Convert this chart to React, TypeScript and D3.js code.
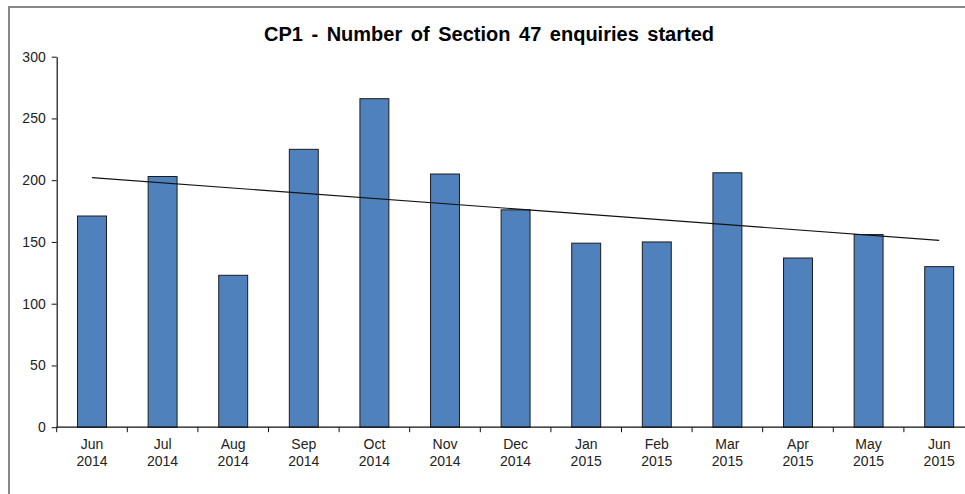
import React, { useEffect, useRef } from "react";
import * as d3 from "d3";

const months = ["Jun", "Jul", "Aug", "Sep", "Oct", "Nov", "Dec", "Jan", "Feb", "Mar", "Apr", "May", "Jun"];
const years = ["2014", "2014", "2014", "2014", "2014", "2014", "2014", "2015", "2015", "2015", "2015", "2015", "2015"];
const enquiries = [171, 203, 123, 225, 266, 205, 176, 149, 150, 206, 137, 156, 130];
const yTicks = [0, 50, 100, 150, 200, 250, 300];
const title = "CP1 - Number of Section 47 enquiries started";

export default function App() {
  const ref = useRef<SVGSVGElement>(null);

  useEffect(() => {
    document.body.style.margin = "0";
    const svg = d3.select(ref.current);
    svg.selectAll("*").remove();

    const W = 965, H = 494;
    const left = 56.7, right = 974.5, top = 56.7, bottom = 427.2;
    const font = "'Liberation Sans', Arial, sans-serif";

    svg.append("rect").attr("width", W).attr("height", H).attr("fill", "#fff");

    // outer chart border
    svg.append("rect")
      .attr("x", 9).attr("y", 7).attr("width", 980).attr("height", 520)
      .attr("fill", "none").attr("stroke", "#878787").attr("stroke-width", 2);

    const idx = months.map((_, i) => String(i));
    const x = d3.scaleBand<string>().domain(idx).range([left, right]).padding(0);
    const y = d3.scaleLinear().domain([0, 300]).range([bottom, top]);

    const bw = x.bandwidth() * 0.41;

    // bars
    svg.append("g").selectAll("rect").data(enquiries).join("rect")
      .attr("x", (_, i) => (x(String(i)) as number) + x.bandwidth() / 2 - bw / 2)
      .attr("y", d => y(d))
      .attr("width", bw)
      .attr("height", d => y(0) - y(d))
      .attr("fill", "#4F81BD")
      .attr("stroke", "#1c1c1c")
      .attr("stroke-width", 1);

    // linear trend line
    const n = enquiries.length;
    const xs = enquiries.map((_, i) => i + 1);
    const mx = d3.mean(xs) as number;
    const my = d3.mean(enquiries) as number;
    const sxy = d3.sum(enquiries.map((v, i) => (xs[i] - mx) * (v - my)));
    const sxx = d3.sum(xs.map(v => (v - mx) ** 2));
    const slope = sxy / sxx;
    const icpt = my - slope * mx;
    const trend = [0, n - 1].map(i => ({ i, v: icpt + slope * (i + 1) }));
    const line = d3.line<{ i: number; v: number }>()
      .x(d => (x(String(d.i)) as number) + x.bandwidth() / 2)
      .y(d => y(d.v));
    svg.append("path").attr("d", line(trend) as string)
      .attr("fill", "none").attr("stroke", "#111").attr("stroke-width", 1.1);

    // y axis
    const ya = svg.append("g").attr("transform", `translate(${left},0)`)
      .call(d3.axisLeft(y).tickValues(yTicks).tickSize(5).tickPadding(6).tickSizeOuter(0));
    ya.select(".domain").attr("stroke", "#111").attr("stroke-width", 1.2);
    ya.selectAll(".tick line").attr("stroke", "#111");
    ya.selectAll(".tick text").attr("font-family", font).attr("font-size", 14).attr("fill", "#222");

    // x axis
    const xa = svg.append("g").attr("transform", `translate(0,${bottom})`);
    xa.append("line").attr("x1", left).attr("x2", right).attr("stroke", "#111").attr("stroke-width", 1.2);
    xa.selectAll("line.tk").data(idx.concat(["end"])).join("line").attr("class", "tk")
      .attr("x1", (d) => d === "end" ? right : (x(d) as number))
      .attr("x2", (d) => d === "end" ? right : (x(d) as number))
      .attr("y1", 0).attr("y2", 5).attr("stroke", "#111");
    const lab = xa.selectAll("text").data(idx).join("text")
      .attr("x", d => (x(d) as number) + x.bandwidth() / 2)
      .attr("text-anchor", "middle")
      .attr("font-family", font).attr("font-size", 14).attr("fill", "#222");
    lab.append("tspan").attr("x", d => (x(d) as number) + x.bandwidth() / 2).attr("y", 22)
      .text(d => months[+d]);
    lab.append("tspan").attr("x", d => (x(d) as number) + x.bandwidth() / 2).attr("y", 39)
      .text(d => years[+d]);

    // title
    svg.append("text").attr("x", 489).attr("y", 41).attr("text-anchor", "middle")
      .attr("font-family", font).attr("font-size", 20).attr("font-weight", "bold")
      .attr("word-spacing", 3)
      .attr("fill", "#000").text(title);
  }, []);

  return (
    <div style={{ position: "absolute", left: 0, top: 0 }}>
      <svg ref={ref} width={965} height={494} style={{ display: "block" }} />
    </div>
  );
}
